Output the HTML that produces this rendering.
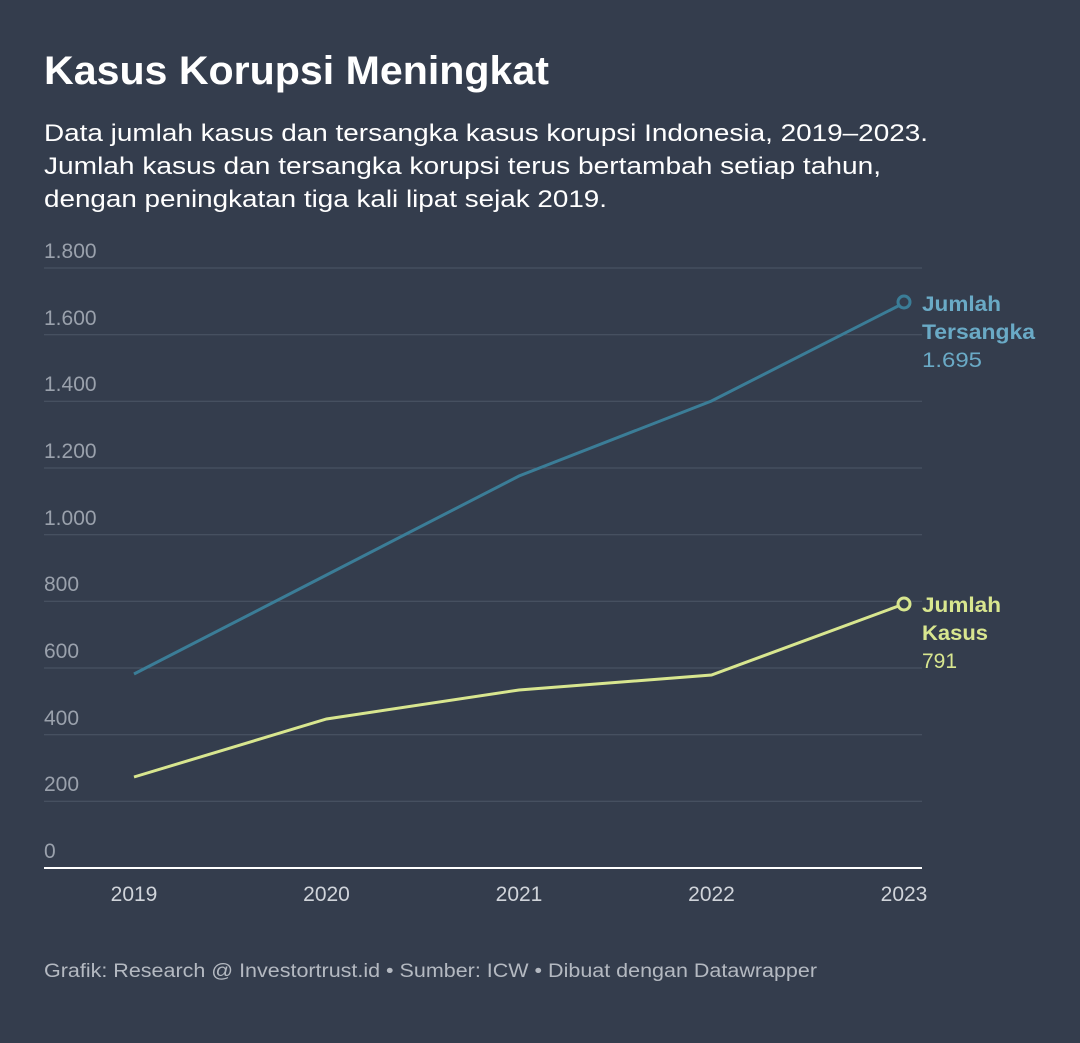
<!DOCTYPE html>
<html><head><meta charset="utf-8"><style>
html,body{margin:0;padding:0;background:#343d4d;}
body{width:1080px;height:1038px;overflow:hidden;font-family:"Liberation Sans",sans-serif;}
</style></head><body>
<svg width="1080" height="1038" xmlns="http://www.w3.org/2000/svg" font-family="Liberation Sans, sans-serif">
<rect width="1080" height="1038" fill="#343d4d"/>
<text x="44" y="84" font-size="40" font-weight="bold" fill="#ffffff" textLength="505" lengthAdjust="spacingAndGlyphs">Kasus Korupsi Meningkat</text>
<g font-size="24" fill="#ffffff">
<text x="44" y="141" textLength="884" lengthAdjust="spacingAndGlyphs">Data jumlah kasus dan tersangka kasus korupsi Indonesia, 2019–2023.</text>
<text x="44" y="174" textLength="837" lengthAdjust="spacingAndGlyphs">Jumlah kasus dan tersangka korupsi terus bertambah setiap tahun,</text>
<text x="44" y="207" textLength="563" lengthAdjust="spacingAndGlyphs">dengan peningkatan tiga kali lipat sejak 2019.</text>
</g>
<g stroke="#4d5666" stroke-width="1">
<line x1="44" x2="922" y1="268" y2="268"/><line x1="44" x2="922" y1="334.7" y2="334.7"/>
<line x1="44" x2="922" y1="401.3" y2="401.3"/><line x1="44" x2="922" y1="468" y2="468"/>
<line x1="44" x2="922" y1="534.7" y2="534.7"/><line x1="44" x2="922" y1="601.3" y2="601.3"/>
<line x1="44" x2="922" y1="668" y2="668"/><line x1="44" x2="922" y1="734.7" y2="734.7"/>
<line x1="44" x2="922" y1="801.3" y2="801.3"/>
</g>
<line x1="44" x2="922" y1="868" y2="868" stroke="#ffffff" stroke-width="2"/>
<g font-size="21" fill="#9aa1ac">
<text x="44" y="258">1.800</text><text x="44" y="325">1.600</text><text x="44" y="391">1.400</text>
<text x="44" y="458">1.200</text><text x="44" y="525">1.000</text><text x="44" y="591">800</text>
<text x="44" y="658">600</text><text x="44" y="725">400</text><text x="44" y="791">200</text>
<text x="44" y="858">0</text>
</g>
<g font-size="21" fill="#d0d4da" text-anchor="middle">
<text x="134" y="901">2019</text><text x="326.5" y="901">2020</text><text x="519" y="901">2021</text>
<text x="711.5" y="901">2022</text><text x="904" y="901">2023</text>
</g>
<polyline fill="none" stroke="#3b7d97" stroke-width="3" points="134,674 326.5,575 519,476 711.5,401 904,303"/>
<polyline fill="none" stroke="#d8e68f" stroke-width="3" points="134,777 326.5,719 519,690 711.5,675 904,604"/>
<circle cx="904" cy="302" r="6" fill="#343d4d" stroke="#3b7d97" stroke-width="3"/>
<circle cx="904" cy="604" r="6" fill="#343d4d" stroke="#d8e68f" stroke-width="3"/>
<g font-size="21">
<text x="922" y="311" fill="#6aaac6" font-weight="bold" textLength="79" lengthAdjust="spacingAndGlyphs">Jumlah</text>
<text x="922" y="339" fill="#6aaac6" font-weight="bold" textLength="113" lengthAdjust="spacingAndGlyphs">Tersangka</text>
<text x="922" y="367" fill="#6aaac6" textLength="60" lengthAdjust="spacingAndGlyphs">1.695</text>
<text x="922" y="612" fill="#d8e68f" font-weight="bold" textLength="79" lengthAdjust="spacingAndGlyphs">Jumlah</text>
<text x="922" y="640" fill="#d8e68f" font-weight="bold" textLength="66" lengthAdjust="spacingAndGlyphs">Kasus</text>
<text x="922" y="668" fill="#d8e68f">791</text>
</g>
<text x="44" y="977" font-size="19" fill="#b4b9c1" textLength="773" lengthAdjust="spacingAndGlyphs">Grafik: Research @ Investortrust.id • Sumber: ICW • Dibuat dengan Datawrapper</text>
</svg>
</body></html>
